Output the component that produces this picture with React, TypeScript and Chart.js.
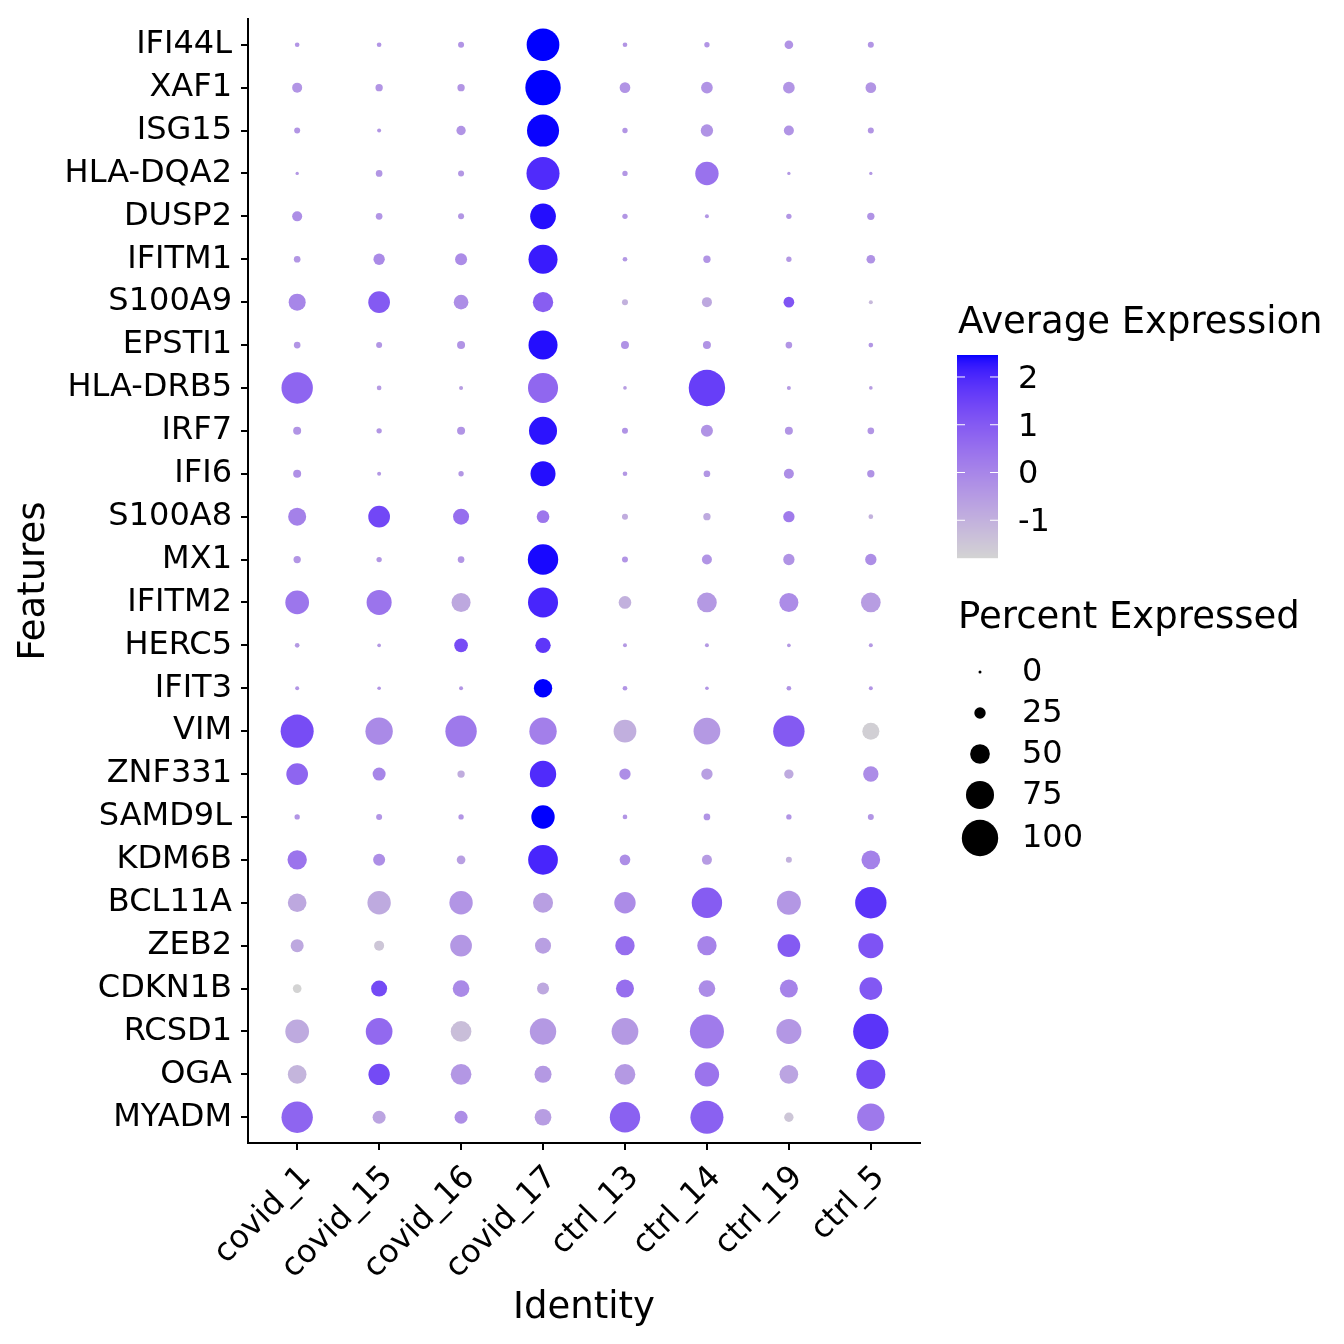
import React, { useEffect, useRef } from 'react';
import { Chart, registerables } from 'chart.js';

Chart.register(...registerables);

// ---------------- data ----------------
const identities = ['covid_1', 'covid_15', 'covid_16', 'covid_17', 'ctrl_13', 'ctrl_14', 'ctrl_19', 'ctrl_5'];

const features = [
  'IFI44L', 'XAF1', 'ISG15', 'HLA-DQA2', 'DUSP2', 'IFITM1', 'S100A9', 'EPSTI1', 'HLA-DRB5',
  'IRF7', 'IFI6', 'S100A8', 'MX1', 'IFITM2', 'HERC5', 'IFIT3', 'VIM', 'ZNF331', 'SAMD9L',
  'KDM6B', 'BCL11A', 'ZEB2', 'CDKN1B', 'RCSD1', 'OGA', 'MYADM',
];

// Percent expressed, one array per identity (feature order as above)
const pctCovid1 = [5, 21, 9, 1, 21, 11, 42, 11, 85, 15, 15, 45, 13, 62, 5, 3, 90, 56, 7, 49, 47, 30, 17, 62, 47, 85];
const pctCovid15 = [5, 13, 3, 11, 11, 25, 56, 9, 5, 7, 3, 56, 7, 66, 2, 2, 73, 30, 9, 27, 61, 21, 39, 71, 55, 30];
const pctCovid16 = [9, 13, 19, 9, 9, 27, 35, 15, 3, 15, 7, 39, 11, 48, 32, 3, 85, 13, 7, 17, 61, 56, 41, 53, 53, 30];
const pctCovid17 = [89, 97, 87, 90, 68, 78, 52, 78, 81, 75, 66, 29, 82, 81, 37, 46, 73, 70, 61, 80, 51, 39, 27, 70, 42, 41];
const pctCtrl13 = [5, 23, 7, 7, 7, 5, 9, 15, 2, 9, 5, 9, 9, 29, 3, 5, 59, 25, 5, 23, 55, 49, 45, 71, 53, 82];
const pctCtrl14 = [7, 26, 28, 61, 3, 13, 21, 15, 100, 27, 11, 13, 21, 50, 3, 2, 71, 25, 11, 21, 82, 49, 41, 93, 64, 90];
const pctCtrl19 = [17, 26, 21, 1, 7, 7, 23, 11, 3, 15, 21, 25, 25, 48, 2, 5, 85, 19, 7, 9, 63, 59, 45, 66, 47, 19];
const pctCtrl5 = [9, 23, 9, 1, 13, 17, 3, 5, 2, 11, 13, 5, 25, 50, 3, 3, 42, 37, 9, 47, 85, 66, 59, 97, 78, 73];

// Scaled average expression, one array per identity
const expCovid1 = [-0.35, -0.35, -0.36, -0.4, -0.2, -0.38, 0.0, -0.35, 0.75, -0.33, -0.25, 0.1, -0.35, 0.35, -0.45, -0.35, 1.3, 0.75, -0.35, 0.4, -0.8, -0.8, -1.8, -0.85, -1.1, 0.75];
const expCovid15 = [-0.35, -0.36, -0.37, -0.38, -0.35, -0.1, 1.0, -0.37, -0.5, -0.37, -0.4, 1.4, -0.38, 0.4, -0.45, -0.35, -0.1, 0.0, -0.35, -0.2, -0.85, -1.5, 1.35, 0.65, 1.35, -0.7];
const expCovid16 = [-0.33, -0.36, -0.33, -0.4, -0.37, -0.15, -0.2, -0.33, -0.55, -0.33, -0.38, 0.55, -0.35, -0.8, 1.3, -0.35, 0.3, -0.9, -0.35, -0.6, -0.35, -0.4, -0.1, -1.3, -0.4, -0.2];
const expCovid17 = [2.46, 2.46, 2.44, 1.95, 2.35, 2.2, 0.9, 2.35, 0.7, 2.3, 2.35, 0.35, 2.4, 2.05, 1.75, 2.46, 0.15, 1.95, 2.46, 2.05, -0.6, -0.6, -0.8, -0.45, -0.45, -0.55];
const expCtrl13 = [-0.36, -0.33, -0.36, -0.4, -0.38, -0.42, -1.0, -0.3, -0.55, -0.3, -0.4, -0.9, -0.35, -1.0, -0.45, -0.35, -0.95, -0.2, -0.35, -0.2, -0.15, 0.55, 0.55, -0.45, -0.45, 0.85];
const expCtrl14 = [-0.35, -0.34, -0.3, 0.45, -0.38, -0.35, -0.8, -0.33, 1.6, -0.3, -0.38, -0.85, -0.33, -0.45, -0.45, -0.35, -0.45, -0.6, -0.33, -0.5, 0.95, 0.05, -0.15, 0.25, 0.4, 0.85];
const expCtrl19 = [-0.32, -0.35, -0.34, -0.42, -0.37, -0.42, 1.1, -0.35, -0.5, -0.35, -0.2, 0.25, -0.3, -0.15, -0.45, -0.3, 1.0, -0.85, -0.35, -1.0, -0.4, 1.0, 0.05, -0.4, -0.7, -1.5];
const expCtrl5 = [-0.35, -0.36, -0.36, -0.42, -0.3, -0.3, -1.2, -0.38, -0.55, -0.35, -0.3, -1.0, -0.2, -0.55, -0.45, -0.35, -1.7, -0.15, -0.35, 0.1, 1.8, 1.15, 1.05, 1.8, 1.35, 0.3];

const percentByIdentity = [pctCovid1, pctCovid15, pctCovid16, pctCovid17, pctCtrl13, pctCtrl14, pctCtrl19, pctCtrl5];
const expressionByIdentity = [expCovid1, expCovid15, expCovid16, expCovid17, expCtrl13, expCtrl14, expCtrl19, expCtrl5];

const colorDomain = [-1.79, 2.46];
const colorTicks = [2, 1, 0, -1];
const sizeBreaks = [0, 25, 50, 75, 100];

// ---------------- colour (Lab interpolation lightgrey -> blue) ----------------
function toLinear(c: number) {
  const v = c / 255;
  return v <= 0.04045 ? v / 12.92 : Math.pow((v + 0.055) / 1.055, 2.4);
}
function fromLinear(v: number) {
  const c = v <= 0.0031308 ? 12.92 * v : 1.055 * Math.pow(v, 1 / 2.4) - 0.055;
  return Math.round(Math.max(0, Math.min(1, c)) * 255);
}
const WX = 0.95047, WY = 1.0, WZ = 1.08883;
function rgbToLab(r: number, g: number, b: number) {
  const R = toLinear(r), G = toLinear(g), B = toLinear(b);
  const X = (0.4124 * R + 0.3576 * G + 0.1805 * B) / WX;
  const Y = (0.2126 * R + 0.7152 * G + 0.0722 * B) / WY;
  const Z = (0.0193 * R + 0.1192 * G + 0.9505 * B) / WZ;
  const f = (t: number) => (t > 0.008856 ? Math.cbrt(t) : 7.787 * t + 16 / 116);
  const fx = f(X), fy = f(Y), fz = f(Z);
  return [116 * fy - 16, 500 * (fx - fy), 200 * (fy - fz)];
}
function labToRgb(L: number, a: number, b: number) {
  const fy = (L + 16) / 116;
  const fx = fy + a / 500;
  const fz = fy - b / 200;
  const finv = (t: number) => (t * t * t > 0.008856 ? t * t * t : (t - 16 / 116) / 7.787);
  const X = finv(fx) * WX, Y = finv(fy) * WY, Z = finv(fz) * WZ;
  const R = 3.2406 * X - 1.5372 * Y - 0.4986 * Z;
  const G = -0.9689 * X + 1.8758 * Y + 0.0415 * Z;
  const B = 0.0557 * X - 0.204 * Y + 1.057 * Z;
  return `rgb(${fromLinear(R)},${fromLinear(G)},${fromLinear(B)})`;
}
const LAB_LOW = rgbToLab(211, 211, 211);
const LAB_HIGH = rgbToLab(0, 0, 255);
function colorFor(v: number) {
  let t = (v - colorDomain[0]) / (colorDomain[1] - colorDomain[0]);
  t = Math.max(0, Math.min(1, t));
  return labToRgb(
    LAB_LOW[0] + (LAB_HIGH[0] - LAB_LOW[0]) * t,
    LAB_LOW[1] + (LAB_HIGH[1] - LAB_LOW[1]) * t,
    LAB_LOW[2] + (LAB_HIGH[2] - LAB_LOW[2]) * t,
  );
}
function radiusFor(pct: number) {
  return 1.5 + 0.167 * pct;
}

const FONT = '"DejaVu Sans", "Liberation Sans", sans-serif';

const legendPlugin = {
  id: 'dotLegends',
  afterDraw(chart: any) {
    const ctx = chart.ctx as CanvasRenderingContext2D;
    ctx.save();
    ctx.fillStyle = '#000';
    ctx.textAlign = 'left';
    ctx.textBaseline = 'alphabetic';
    ctx.font = `37px ${FONT}`;
    ctx.fillText('Average Expression', 958, 333);

    // colour bar
    const bx = 957, bw = 41, by = 355, bh = 203;
    const [lo, hi] = colorDomain;
    for (let i = 0; i < bh; i++) {
      const v = hi - ((i + 0.5) / bh) * (hi - lo);
      ctx.fillStyle = colorFor(v);
      ctx.fillRect(bx, by + i, bw, 1.2);
    }
    ctx.strokeStyle = '#fff';
    ctx.lineWidth = 1;
    ctx.font = `32px ${FONT}`;
    ctx.textBaseline = 'middle';
    for (const t of colorTicks) {
      const y = by + ((hi - t) / (hi - lo)) * bh;
      ctx.beginPath();
      ctx.moveTo(bx, y);
      ctx.lineTo(bx + 8, y);
      ctx.moveTo(bx + bw - 8, y);
      ctx.lineTo(bx + bw, y);
      ctx.stroke();
      ctx.fillStyle = '#000';
      ctx.fillText(String(t), 1018, y + 2.5);
    }

    // size legend
    ctx.textBaseline = 'alphabetic';
    ctx.font = `37px ${FONT}`;
    ctx.fillText('Percent Expressed', 958, 628);
    const keyY = [672, 713, 754, 795, 838];
    ctx.font = `32px ${FONT}`;
    ctx.textBaseline = 'middle';
    sizeBreaks.forEach((b, i) => {
      ctx.fillStyle = '#000';
      ctx.beginPath();
      ctx.arc(980, keyY[i], radiusFor(b), 0, Math.PI * 2);
      ctx.fill();
      ctx.fillText(String(b), 1022, keyY[i] + 1);
    });
    ctx.restore();
  },
};

export default function App() {
  const canvasRef = useRef<HTMLCanvasElement | null>(null);

  useEffect(() => {
    const canvas = canvasRef.current;
    if (!canvas) return;
    Chart.defaults.font.family = FONT;

    const points: any[] = [];
    identities.forEach((_, ci) => {
      features.forEach((_, fi) => {
        points.push({
          x: ci,
          y: fi,
          r: radiusFor(percentByIdentity[ci][fi]),
          z: expressionByIdentity[ci][fi],
        });
      });
    });

    const chart = new Chart(canvas, {
      type: 'bubble',
      data: {
        datasets: [
          {
            data: points,
            backgroundColor: (c: any) => (c.raw ? colorFor(c.raw.z) : '#000'),
            borderWidth: 0,
            hoverRadius: 0,
          } as any,
        ],
      },
      options: {
        responsive: false,
        animation: false,
        events: [],
        layout: { padding: { top: 19, right: 424, left: 0, bottom: 0 } },
        plugins: { legend: { display: false }, tooltip: { enabled: false } },
        scales: {
          x: {
            type: 'linear',
            min: -0.6,
            max: 7.6,
            afterBuildTicks: (s: any) => {
              s.ticks = identities.map((_, i) => ({ value: i }));
            },
            afterFit: (s: any) => {
              s.height = 201;
              s.paddingLeft = 0;
              s.paddingRight = 0;
            },
            ticks: {
              autoSkip: false,
              minRotation: 45,
              maxRotation: 45,
              padding: 9,
              labelOffset: 9,
              color: '#000',
              font: { size: 32, family: FONT },
              callback: (v: any) => identities[v as number] ?? '',
            },
            grid: { drawOnChartArea: false, drawTicks: true, tickLength: 7, color: '#000', lineWidth: 2 },
            border: { display: true, color: '#000', width: 2 },
            title: {
              display: true,
              text: 'Identity',
              color: '#000',
              font: { size: 37, family: FONT },
              padding: { top: 0, bottom: 13 },
            },
          },
          y: {
            type: 'linear',
            reverse: true,
            min: -0.6,
            max: 25.6,
            afterBuildTicks: (s: any) => {
              s.ticks = features.map((_, i) => ({ value: i }));
            },
            afterFit: (s: any) => {
              s.width = 248;
              s.paddingTop = 0;
              s.paddingBottom = 0;
            },
            ticks: {
              autoSkip: false,
              padding: 9,
              color: '#000',
              font: { size: 32, family: FONT },
              callback: (v: any) => features[v as number] ?? '',
            },
            grid: { drawOnChartArea: false, drawTicks: true, tickLength: 7, color: '#000', lineWidth: 2 },
            border: { display: true, color: '#000', width: 2 },
            title: {
              display: true,
              text: 'Features',
              color: '#000',
              font: { size: 37, family: FONT },
              padding: { top: 12, bottom: 0 },
            },
          },
        },
      },
      plugins: [legendPlugin],
    });

    return () => chart.destroy();
  }, []);

  return (
    <div style={{ position: 'fixed', left: 0, top: 0, width: 1344, height: 1344, background: '#fff' }}>
      <canvas ref={canvasRef} width={1344} height={1344} style={{ display: 'block', width: 1344, height: 1344 }} />
    </div>
  );
}
